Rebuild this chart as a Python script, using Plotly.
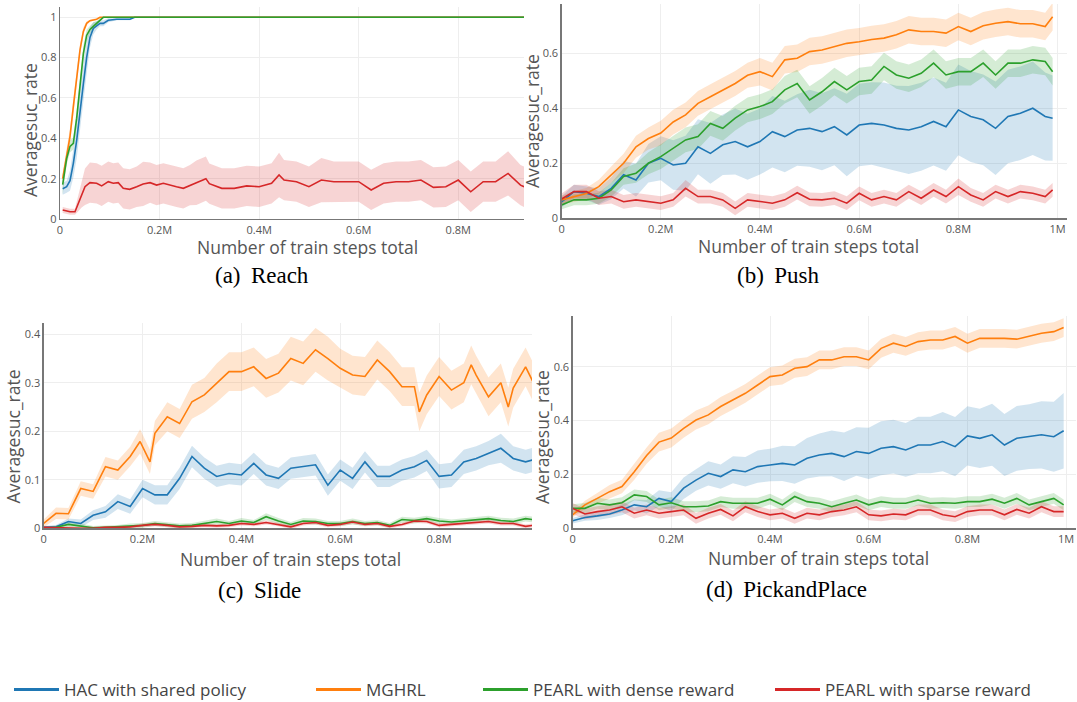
import plotly.graph_objects as go

# ---------------- data ----------------
SERIES = ["HAC with shared policy", "MGHRL", "PEARL with dense reward", "PEARL with sparse reward"]
COLORS = ["#1f77b4", "#ff7f0e", "#2ca02c", "#d62728"]
BANDS = ["rgba(31,119,180,0.2)", "rgba(255,127,14,0.2)", "rgba(44,160,44,0.2)", "rgba(214,39,40,0.2)"]

X_TICKVALS = [0, 0.2, 0.4, 0.6, 0.8, 1.0]
X_TICKTEXT = ["0", "0.2M", "0.4M", "0.6M", "0.8M", "1M"]

# (a) Reach
REACH_X = [0.0054, 0.0134, 0.0201, 0.0268, 0.0335, 0.0402, 0.0469, 0.0535, 0.0602, 0.0669, 0.0736,
           0.0803, 0.087, 0.097, 0.114, 0.1406, 0.15, 0.3, 0.5, 0.7, 0.932]
REACH_HAC = [0.15, 0.16, 0.19, 0.276, 0.39, 0.54, 0.67, 0.8, 0.9, 0.945, 0.96, 0.97, 0.97, 0.985, 0.99, 0.99,
             1.0, 1.0, 1.0, 1.0, 1.0]
REACH_HAC_BAND = [0.03, 0.03, 0.05, 0.07, 0.09, 0.1, 0.1, 0.08, 0.05, 0.03, 0.02, 0.015, 0.015, 0.01, 0.005,
                  0.005, 0.0, 0.0, 0.0, 0.0, 0.0]
REACH_MGHRL = [0.2, 0.31, 0.41, 0.557, 0.706, 0.838, 0.93, 0.97, 0.983, 0.988, 0.99, 1.0, 1.0, 1.0, 1.0, 1.0,
               1.0, 1.0, 1.0, 1.0, 1.0]
REACH_MGHRL_BAND = [0.03, 0.04, 0.04, 0.04, 0.04, 0.03, 0.02, 0.01, 0.005, 0.005, 0.003, 0.0, 0.0, 0.0, 0.0,
                    0.0, 0.0, 0.0, 0.0, 0.0, 0.0]
REACH_DENSE = [0.17, 0.3, 0.36, 0.375, 0.5, 0.67, 0.82, 0.91, 0.94, 0.955, 0.97, 0.99, 1.0, 1.0, 1.0, 1.0,
               1.0, 1.0, 1.0, 1.0, 1.0]
REACH_DENSE_BAND = [0.05, 0.03, 0.03, 0.03, 0.04, 0.04, 0.04, 0.03, 0.02, 0.02, 0.01, 0.005, 0.003, 0.003,
                    0.003, 0.003, 0.003, 0.003, 0.003, 0.003, 0.003]
REACH_RED_X = [0.0054, 0.0134, 0.0201, 0.0301, 0.0368, 0.0435, 0.0502, 0.0602, 0.0736, 0.0837, 0.097, 0.107,
               0.117, 0.127, 0.14, 0.154, 0.167, 0.181, 0.194, 0.2075, 0.221, 0.234, 0.2477, 0.261, 0.274,
               0.293, 0.3, 0.325, 0.35, 0.375, 0.4, 0.425, 0.44, 0.45, 0.475, 0.5, 0.525, 0.55, 0.575, 0.6,
               0.625, 0.65, 0.675, 0.7, 0.725, 0.75, 0.775, 0.8, 0.825, 0.85, 0.875, 0.9, 0.925, 0.932]
REACH_SPARSE = [0.045, 0.041, 0.036, 0.036, 0.078, 0.127, 0.16, 0.18, 0.177, 0.164, 0.185, 0.177, 0.18,
                0.152, 0.147, 0.16, 0.174, 0.18, 0.168, 0.177, 0.167, 0.16, 0.152, 0.168, 0.18, 0.2, 0.175,
                0.152, 0.152, 0.164, 0.16, 0.177, 0.218, 0.193, 0.185, 0.16, 0.193, 0.185, 0.185, 0.185,
                0.144, 0.177, 0.185, 0.185, 0.193, 0.157, 0.16, 0.193, 0.135, 0.185, 0.185, 0.226, 0.168, 0.16]
REACH_SPARSE_BAND = [0.015, 0.015, 0.015, 0.015, 0.04, 0.07, 0.09, 0.1, 0.1, 0.1, 0.1, 0.1, 0.1, 0.1, 0.1,
                     0.1, 0.11, 0.1, 0.1, 0.1, 0.1, 0.1, 0.1, 0.1, 0.11, 0.11, 0.1, 0.1, 0.1, 0.1, 0.1, 0.1,
                     0.11, 0.1, 0.1, 0.1, 0.11, 0.1, 0.1, 0.1, 0.1, 0.1, 0.1, 0.1, 0.1, 0.1, 0.1, 0.1, 0.1,
                     0.1, 0.1, 0.11, 0.1, 0.1]

# (b) Push
PUSH_X = [0.0, 0.025, 0.05, 0.075, 0.1, 0.125, 0.15, 0.175, 0.2, 0.225, 0.25, 0.275, 0.3, 0.325, 0.35,
          0.375, 0.4, 0.425, 0.45, 0.475, 0.5, 0.525, 0.55, 0.575, 0.6, 0.625, 0.65, 0.675, 0.7, 0.725,
          0.75, 0.775, 0.8, 0.825, 0.85, 0.875, 0.9, 0.925, 0.95, 0.975, 0.99]
PUSH_HAC = [0.06, 0.097, 0.091, 0.079, 0.109, 0.158, 0.139, 0.2, 0.218, 0.194, 0.2, 0.26, 0.236, 0.267,
            0.279, 0.26, 0.279, 0.315, 0.297, 0.321, 0.327, 0.315, 0.333, 0.303, 0.339, 0.345, 0.339, 0.327,
            0.321, 0.333, 0.352, 0.333, 0.394, 0.37, 0.358, 0.327, 0.37, 0.382, 0.4, 0.37, 0.364]
PUSH_HAC_BAND = [0.02, 0.025, 0.025, 0.03, 0.04, 0.05, 0.06, 0.07, 0.08, 0.09, 0.1, 0.1, 0.11, 0.11, 0.12,
                 0.12, 0.12, 0.13, 0.13, 0.13, 0.14, 0.14, 0.14, 0.15, 0.15, 0.15, 0.155, 0.155, 0.16, 0.16,
                 0.16, 0.16, 0.165, 0.165, 0.165, 0.17, 0.17, 0.17, 0.17, 0.16, 0.155]
PUSH_MGHRL = [0.067, 0.079, 0.09, 0.115, 0.158, 0.2, 0.26, 0.29, 0.31, 0.35, 0.376, 0.418, 0.442, 0.467,
              0.49, 0.52, 0.533, 0.515, 0.576, 0.582, 0.606, 0.612, 0.624, 0.636, 0.642, 0.65, 0.655, 0.667,
              0.685, 0.679, 0.679, 0.673, 0.697, 0.679, 0.7, 0.709, 0.715, 0.707, 0.707, 0.697, 0.733]
PUSH_MGHRL_BAND = [0.015, 0.02, 0.02, 0.025, 0.03, 0.035, 0.04, 0.04, 0.045, 0.045, 0.045, 0.045, 0.045,
                   0.045, 0.045, 0.045, 0.05, 0.05, 0.05, 0.05, 0.05, 0.05, 0.05, 0.05, 0.05, 0.05, 0.05,
                   0.05, 0.05, 0.05, 0.05, 0.05, 0.05, 0.05, 0.05, 0.05, 0.05, 0.05, 0.05, 0.05, 0.05]
PUSH_DENSE = [0.048, 0.067, 0.067, 0.073, 0.103, 0.152, 0.164, 0.2, 0.224, 0.255, 0.285, 0.297, 0.345,
              0.327, 0.364, 0.394, 0.406, 0.424, 0.467, 0.49, 0.43, 0.46, 0.497, 0.467, 0.497, 0.503, 0.552,
              0.521, 0.509, 0.527, 0.564, 0.521, 0.533, 0.533, 0.564, 0.521, 0.564, 0.564, 0.576, 0.57, 0.533]
PUSH_DENSE_BAND = [0.015, 0.02, 0.02, 0.02, 0.025, 0.03, 0.035, 0.04, 0.045, 0.045, 0.045, 0.045, 0.045,
                   0.045, 0.045, 0.045, 0.045, 0.045, 0.05, 0.05, 0.05, 0.05, 0.05, 0.05, 0.05, 0.05, 0.05,
                   0.05, 0.05, 0.05, 0.05, 0.05, 0.05, 0.05, 0.05, 0.05, 0.05, 0.05, 0.05, 0.05, 0.05]
PUSH_SPARSE = [0.07, 0.097, 0.097, 0.073, 0.079, 0.06, 0.067, 0.06, 0.055, 0.067, 0.109, 0.079, 0.079,
               0.067, 0.036, 0.067, 0.06, 0.055, 0.067, 0.093, 0.069, 0.067, 0.073, 0.055, 0.091, 0.067,
               0.079, 0.067, 0.097, 0.073, 0.103, 0.079, 0.115, 0.085, 0.067, 0.097, 0.079, 0.097, 0.091,
               0.079, 0.103]
PUSH_SPARSE_BAND = [0.02, 0.025, 0.025, 0.025, 0.025, 0.025, 0.025, 0.025, 0.025, 0.025, 0.03, 0.025,
                    0.025, 0.025, 0.025, 0.025, 0.025, 0.025, 0.025, 0.025, 0.025, 0.025, 0.025, 0.025,
                    0.025, 0.025, 0.025, 0.025, 0.025, 0.025, 0.025, 0.025, 0.03, 0.025, 0.025, 0.025,
                    0.025, 0.025, 0.025, 0.025, 0.025]

# (c) Slide
SLIDE_X = PUSH_X
SLIDE_MG_X = [0.0, 0.025, 0.05, 0.075, 0.1, 0.125, 0.15, 0.175, 0.195, 0.215, 0.225, 0.25, 0.275, 0.3,
              0.325, 0.35, 0.375, 0.4, 0.425, 0.45, 0.475, 0.5, 0.525, 0.55, 0.575, 0.6, 0.625, 0.65,
              0.675, 0.7, 0.725, 0.75, 0.76, 0.775, 0.8, 0.825, 0.85, 0.865, 0.875, 0.9, 0.925, 0.94,
              0.95, 0.975, 0.99]
SLIDE_MGHRL = [0.01, 0.031, 0.03, 0.082, 0.076, 0.127, 0.12, 0.148, 0.179, 0.137, 0.196, 0.23, 0.216,
               0.261, 0.275, 0.3, 0.323, 0.323, 0.333, 0.309, 0.32, 0.35, 0.34, 0.368, 0.35, 0.33, 0.316,
               0.313, 0.347, 0.323, 0.292, 0.292, 0.24, 0.275, 0.313, 0.285, 0.3, 0.337, 0.316, 0.271, 0.3,
               0.25, 0.289, 0.333, 0.302]
SLIDE_MGHRL_BAND = [0.008, 0.012, 0.012, 0.015, 0.015, 0.02, 0.02, 0.02, 0.025, 0.025, 0.025, 0.03, 0.03,
                    0.035, 0.035, 0.04, 0.04, 0.04, 0.04, 0.04, 0.04, 0.045, 0.045, 0.045, 0.045, 0.04,
                    0.04, 0.04, 0.04, 0.04, 0.04, 0.04, 0.04, 0.04, 0.04, 0.04, 0.04, 0.04, 0.04, 0.04,
                    0.04, 0.04, 0.04, 0.04, 0.04]
SLIDE_HAC = [0.002, 0.003, 0.014, 0.01, 0.027, 0.034, 0.055, 0.045, 0.082, 0.069, 0.069, 0.103, 0.148,
             0.124, 0.107, 0.113, 0.11, 0.134, 0.11, 0.103, 0.124, 0.127, 0.131, 0.089, 0.12, 0.103, 0.137,
             0.107, 0.107, 0.12, 0.127, 0.14, 0.107, 0.11, 0.137, 0.144, 0.155, 0.165, 0.144, 0.137, 0.141]
SLIDE_HAC_BAND = [0.003, 0.004, 0.006, 0.008, 0.01, 0.012, 0.015, 0.015, 0.018, 0.02, 0.02, 0.022, 0.022,
                  0.022, 0.022, 0.022, 0.022, 0.022, 0.022, 0.022, 0.022, 0.022, 0.022, 0.022, 0.022,
                  0.022, 0.022, 0.022, 0.022, 0.022, 0.022, 0.022, 0.025, 0.025, 0.025, 0.025, 0.025, 0.03,
                  0.025, 0.025, 0.025]
SLIDE_DENSE = [0.0, 0.002, 0.008, 0.005, 0.001, 0.002, 0.003, 0.005, 0.006, 0.01, 0.008, 0.005, 0.006,
               0.01, 0.014, 0.01, 0.015, 0.012, 0.024, 0.015, 0.008, 0.015, 0.014, 0.01, 0.01, 0.014, 0.01,
               0.012, 0.006, 0.018, 0.016, 0.02, 0.015, 0.013, 0.015, 0.018, 0.02, 0.016, 0.014, 0.02, 0.018]
SLIDE_DENSE_BAND = [0.003, 0.004, 0.005, 0.005, 0.004, 0.004, 0.004, 0.005, 0.005, 0.005, 0.005, 0.005,
                    0.005, 0.005, 0.006, 0.005, 0.006, 0.005, 0.007, 0.006, 0.005, 0.006, 0.006, 0.005,
                    0.005, 0.006, 0.005, 0.005, 0.005, 0.006, 0.006, 0.006, 0.006, 0.005, 0.006, 0.006,
                    0.006, 0.006, 0.006, 0.006, 0.006]
SLIDE_SPARSE = [0.002, 0.001, 0.0, 0.0, 0.0, 0.002, 0.002, 0.003, 0.006, 0.008, 0.006, 0.003, 0.004,
                0.006, 0.005, 0.006, 0.01, 0.008, 0.012, 0.008, 0.003, 0.01, 0.012, 0.006, 0.008, 0.013,
                0.008, 0.01, 0.004, 0.008, 0.015, 0.014, 0.006, 0.008, 0.01, 0.012, 0.014, 0.01, 0.01,
                0.004, 0.006]
SLIDE_SPARSE_BAND = [0.003, 0.003, 0.003, 0.003, 0.003, 0.003, 0.003, 0.003, 0.004, 0.004, 0.004, 0.004,
                     0.004, 0.004, 0.004, 0.004, 0.004, 0.004, 0.004, 0.004, 0.004, 0.004, 0.004, 0.004,
                     0.004, 0.004, 0.004, 0.004, 0.004, 0.004, 0.004, 0.004, 0.004, 0.004, 0.004, 0.004,
                     0.004, 0.004, 0.004, 0.004, 0.004]

# (d) PickandPlace
PICK_X = [0.0, 0.025, 0.05, 0.075, 0.1, 0.125, 0.15, 0.175, 0.2, 0.225, 0.25, 0.275, 0.3, 0.325, 0.35,
          0.375, 0.4, 0.425, 0.45, 0.475, 0.5, 0.525, 0.55, 0.575, 0.6, 0.625, 0.65, 0.675, 0.7, 0.725,
          0.75, 0.775, 0.8, 0.825, 0.85, 0.875, 0.9, 0.925, 0.95, 0.975, 0.995]
PICK_HAC = [0.028, 0.04, 0.046, 0.053, 0.068, 0.087, 0.08, 0.111, 0.099, 0.149, 0.179, 0.204, 0.192, 0.217,
            0.21, 0.229, 0.235, 0.241, 0.235, 0.26, 0.272, 0.278, 0.266, 0.285, 0.278, 0.297, 0.303, 0.291,
            0.309, 0.309, 0.322, 0.303, 0.343, 0.334, 0.347, 0.309, 0.334, 0.34, 0.347, 0.34, 0.362]
PICK_HAC_BAND = [0.01, 0.012, 0.015, 0.015, 0.02, 0.02, 0.025, 0.03, 0.035, 0.04, 0.04, 0.045, 0.045, 0.05,
                 0.055, 0.06, 0.06, 0.065, 0.07, 0.075, 0.08, 0.085, 0.09, 0.09, 0.095, 0.1, 0.1, 0.1, 0.105,
                 0.105, 0.11, 0.11, 0.11, 0.11, 0.115, 0.115, 0.12, 0.12, 0.125, 0.13, 0.14]
PICK_MGHRL = [0.05, 0.087, 0.111, 0.136, 0.155, 0.21, 0.27, 0.32, 0.335, 0.371, 0.402, 0.421, 0.452,
              0.476, 0.501, 0.532, 0.563, 0.569, 0.594, 0.6, 0.625, 0.625, 0.637, 0.637, 0.625, 0.668, 0.687,
              0.675, 0.693, 0.699, 0.699, 0.712, 0.687, 0.705, 0.705, 0.705, 0.702, 0.712, 0.724, 0.73, 0.745]
PICK_MGHRL_BAND = [0.01, 0.015, 0.02, 0.025, 0.025, 0.03, 0.03, 0.035, 0.035, 0.035, 0.035, 0.035, 0.035,
                   0.035, 0.035, 0.035, 0.035, 0.035, 0.035, 0.035, 0.035, 0.035, 0.035, 0.035, 0.035,
                   0.035, 0.035, 0.035, 0.035, 0.035, 0.035, 0.035, 0.035, 0.035, 0.035, 0.035, 0.035,
                   0.035, 0.035, 0.035, 0.035]
PICK_DENSE = [0.074, 0.074, 0.093, 0.087, 0.095, 0.124, 0.118, 0.087, 0.095, 0.08, 0.08, 0.083, 0.099,
              0.093, 0.093, 0.093, 0.108, 0.087, 0.118, 0.099, 0.093, 0.08, 0.093, 0.105, 0.087, 0.099,
              0.093, 0.093, 0.105, 0.093, 0.095, 0.093, 0.099, 0.099, 0.108, 0.093, 0.111, 0.087, 0.099,
              0.111, 0.087]
PICK_DENSE_BAND = [0.015, 0.02, 0.02, 0.02, 0.02, 0.02, 0.02, 0.02, 0.02, 0.02, 0.02, 0.02, 0.02, 0.02,
                   0.02, 0.02, 0.02, 0.02, 0.02, 0.02, 0.02, 0.02, 0.02, 0.02, 0.02, 0.02, 0.02, 0.02, 0.02,
                   0.02, 0.02, 0.02, 0.02, 0.02, 0.02, 0.02, 0.02, 0.02, 0.02, 0.02, 0.02]
PICK_SPARSE = [0.074, 0.053, 0.062, 0.068, 0.08, 0.056, 0.068, 0.056, 0.062, 0.068, 0.037, 0.056, 0.07,
               0.046, 0.08, 0.062, 0.05, 0.056, 0.037, 0.056, 0.05, 0.062, 0.068, 0.08, 0.05, 0.046, 0.053,
               0.05, 0.068, 0.068, 0.05, 0.043, 0.062, 0.068, 0.068, 0.05, 0.07, 0.056, 0.08, 0.062, 0.062]
PICK_SPARSE_BAND = [0.02, 0.02, 0.02, 0.02, 0.02, 0.02, 0.02, 0.02, 0.02, 0.02, 0.02, 0.02, 0.02, 0.02,
                    0.02, 0.02, 0.02, 0.02, 0.02, 0.02, 0.02, 0.02, 0.02, 0.02, 0.02, 0.02, 0.02, 0.02,
                    0.02, 0.02, 0.02, 0.02, 0.02, 0.02, 0.02, 0.02, 0.02, 0.02, 0.02, 0.02, 0.02]

CAPTIONS = ["(a)\u00a0\u2009Reach", "(b)\u00a0\u2009Push", "(c)\u00a0\u2009Slide", "(d)\u00a0\u2009PickandPlace"]
X_TITLE = "Number of train steps total"
Y_TITLE = "Averagesuc_rate"

PANELS = [
    dict(series=[(REACH_X, REACH_HAC, REACH_HAC_BAND), (REACH_X, REACH_MGHRL, REACH_MGHRL_BAND),
                 (REACH_X, REACH_DENSE, REACH_DENSE_BAND), (REACH_RED_X, REACH_SPARSE, REACH_SPARSE_BAND)],
         xr=[0, 0.932], yr=[0, 1.051], dtick=0.2),
    dict(series=[(PUSH_X, PUSH_HAC, PUSH_HAC_BAND), (PUSH_X, PUSH_MGHRL, PUSH_MGHRL_BAND),
                 (PUSH_X, PUSH_DENSE, PUSH_DENSE_BAND), (PUSH_X, PUSH_SPARSE, PUSH_SPARSE_BAND)],
         xr=[0, 1.019], yr=[0, 0.779], dtick=0.2),
    dict(series=[(SLIDE_X, SLIDE_HAC, SLIDE_HAC_BAND), (SLIDE_MG_X, SLIDE_MGHRL, SLIDE_MGHRL_BAND),
                 (SLIDE_X, SLIDE_DENSE, SLIDE_DENSE_BAND), (SLIDE_X, SLIDE_SPARSE, SLIDE_SPARSE_BAND)],
         xr=[0, 0.988], yr=[0, 0.4227], dtick=0.1),
    dict(series=[(PICK_X, PICK_HAC, PICK_HAC_BAND), (PICK_X, PICK_MGHRL, PICK_MGHRL_BAND),
                 (PICK_X, PICK_DENSE, PICK_DENSE_BAND), (PICK_X, PICK_SPARSE, PICK_SPARSE_BAND)],
         xr=[0, 1.02], yr=[0, 0.788], dtick=0.2),
]

# ---------------- layout geometry (pixels, converted to paper fractions) ----------------
W, H = 1077, 702
DOMAINS = [  # (x0, x1, ytop, ybottom)
    (60, 524, 7, 219),
    (561.6, 1067, 4, 218.3),
    (43.7, 532, 323.3, 528.3),
    (572.6, 1076, 316, 528.3),
]
YTITLE_POS = [(30, 130), (532, 121), (12.7, 436.7), (542, 437)]
XTITLE_POS = [(307, 247), (808, 246), (290, 559), (818, 558)]
CAPTION_POS = [(262, 276), (778, 276), (259, 590), (786, 589)]
LEGEND_POS = [14, 316, 483, 775]

fig = go.Figure()
TICKFONT = dict(family="Open Sans", size=11, color="#555")

for i, p in enumerate(PANELS):
    sfx = "" if i == 0 else str(i + 1)
    xa, ya = "x" + sfx, "y" + sfx
    for k, (xs, m, b) in enumerate(p["series"]):
        up = [v + h for v, h in zip(m, b)]
        lo = [v - h for v, h in zip(m, b)]
        fig.add_trace(go.Scatter(x=list(xs) + list(xs)[::-1], y=up + lo[::-1], fill="toself",
                                 fillcolor=BANDS[k], line=dict(width=0), mode="lines",
                                 hoverinfo="skip", showlegend=False, xaxis=xa, yaxis=ya))
    for k, (xs, m, b) in enumerate(p["series"]):
        fig.add_trace(go.Scatter(x=xs, y=m, mode="lines", line=dict(color=COLORS[k], width=1.6),
                                 name=SERIES[k], showlegend=False, xaxis=xa, yaxis=ya))
    x0, x1, yt, yb = DOMAINS[i]
    fig.layout["xaxis" + sfx] = dict(domain=[x0 / W, x1 / W], range=p["xr"], anchor=ya,
                                     tickvals=X_TICKVALS, ticktext=X_TICKTEXT, showgrid=True,
                                     gridcolor="#eeeeee", showline=True, linecolor="#777", linewidth=1.3,
                                     zeroline=False, tickfont=TICKFONT, ticks="", fixedrange=True)
    fig.layout["yaxis" + sfx] = dict(domain=[1 - yb / H, 1 - yt / H], range=p["yr"], anchor=xa,
                                     dtick=p["dtick"], tick0=0, showgrid=True, gridcolor="#eeeeee",
                                     showline=True, linecolor="#777", linewidth=1.3, zeroline=False,
                                     tickfont=TICKFONT, ticks="", fixedrange=True)

# legend entries (one legend per item so each sits at its own spot)
for k in range(4):
    lid = "legend" if k == 0 else "legend" + str(k + 1)
    fig.add_trace(go.Scatter(x=[None], y=[None], mode="lines", line=dict(color=COLORS[k], width=3),
                             name=SERIES[k], showlegend=True, legend=lid, xaxis="x", yaxis="y"))
    fig.layout[lid] = dict(x=(LEGEND_POS[k] - 5) / W, y=1 - 690 / H, xanchor="left", yanchor="middle",
                           orientation="h", bgcolor="rgba(0,0,0,0)", itemwidth=45,
                           font=dict(family="Open Sans", size=17, color="#444"))

ann = []
for i in range(4):
    ann.append(dict(text=Y_TITLE, x=YTITLE_POS[i][0] / W, y=1 - YTITLE_POS[i][1] / H, xref="paper",
                    yref="paper", textangle=-90, showarrow=False, xanchor="center", yanchor="middle",
                    font=dict(family="Open Sans", size=17.5, color="#555")))
    ann.append(dict(text=X_TITLE, x=XTITLE_POS[i][0] / W, y=1 - XTITLE_POS[i][1] / H, xref="paper",
                    yref="paper", showarrow=False, xanchor="center", yanchor="middle",
                    font=dict(family="Open Sans", size=17.5, color="#555")))
    ann.append(dict(text=CAPTIONS[i], x=CAPTION_POS[i][0] / W, y=1 - CAPTION_POS[i][1] / H, xref="paper",
                    yref="paper", showarrow=False, xanchor="center", yanchor="middle",
                    font=dict(family="Liberation Serif", size=23, color="#000")))

fig.update_layout(width=W, height=H, margin=dict(l=0, r=0, t=0, b=0, autoexpand=False),
                  paper_bgcolor="white", plot_bgcolor="white", annotations=ann,
                  font=dict(family="Open Sans", color="#444"))

fig.write_html("out.html", config={"displayModeBar": False, "staticPlot": True},
               post_script="document.body.style.margin='0';"
                           "document.documentElement.style.overflow='hidden';"
                           "document.body.style.overflow='hidden';")
